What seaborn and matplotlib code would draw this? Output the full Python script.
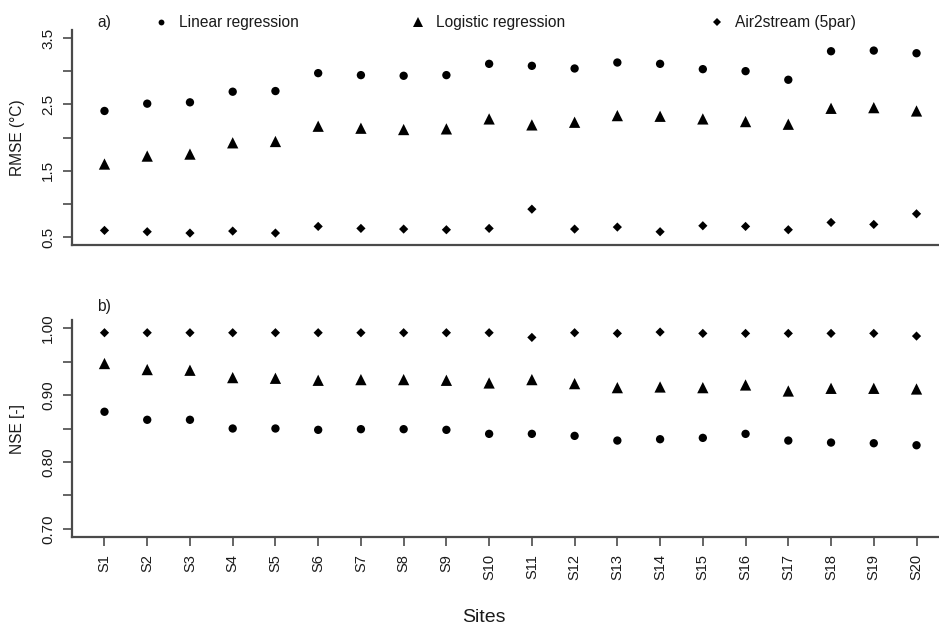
import numpy as np
import pandas as pd
import matplotlib
matplotlib.use("Agg")
import matplotlib.pyplot as plt
from matplotlib.lines import Line2D
import seaborn as sns

sites = [f"S{i}" for i in range(1, 21)]
models = ["Linear regression", "Logistic regression", "Air2stream (5par)"]

rmse_linear = [2.40, 2.51, 2.53, 2.69, 2.70, 2.97, 2.94, 2.93, 2.94, 3.11,
               3.08, 3.04, 3.13, 3.11, 3.03, 3.00, 2.87, 3.30, 3.31, 3.27]
rmse_logistic = [1.60, 1.72, 1.75, 1.92, 1.94, 2.17, 2.14, 2.12, 2.13, 2.28,
                 2.19, 2.23, 2.33, 2.32, 2.28, 2.24, 2.20, 2.44, 2.45, 2.40]
rmse_a2s = [0.60, 0.58, 0.56, 0.59, 0.56, 0.66, 0.63, 0.62, 0.61, 0.63,
            0.92, 0.62, 0.65, 0.58, 0.67, 0.66, 0.61, 0.72, 0.69, 0.85]

nse_linear = [0.875, 0.863, 0.863, 0.850, 0.850, 0.848, 0.849, 0.849, 0.848, 0.842,
              0.842, 0.839, 0.832, 0.834, 0.836, 0.842, 0.832, 0.829, 0.828, 0.825]
nse_logistic = [0.947, 0.938, 0.937, 0.926, 0.925, 0.922, 0.923, 0.923, 0.922, 0.918,
                0.923, 0.917, 0.911, 0.912, 0.911, 0.915, 0.906, 0.910, 0.910, 0.909]
nse_a2s = [0.993, 0.993, 0.993, 0.993, 0.993, 0.993, 0.993, 0.993, 0.993, 0.993,
           0.986, 0.993, 0.992, 0.994, 0.992, 0.992, 0.992, 0.992, 0.992, 0.988]

rmse = pd.DataFrame({"site": sites * 3,
                     "model": np.repeat(models, len(sites)),
                     "value": rmse_linear + rmse_logistic + rmse_a2s})
nse = pd.DataFrame({"site": sites * 3,
                    "model": np.repeat(models, len(sites)),
                    "value": nse_linear + nse_logistic + nse_a2s})

sns.set_theme(style="ticks")
plt.rcParams["font.family"] = ["Liberation Sans", "DejaVu Sans"]
INK = "#1a1a1a"
AXC = "#4a4a4a"

marker_of = {"Linear regression": "o", "Logistic regression": "^", "Air2stream (5par)": "D"}
size_of = {"Linear regression": 36, "Logistic regression": 66, "Air2stream (5par)": 22}

W, H = 939, 625
fig = plt.figure(figsize=(W / 100, H / 100), dpi=100)


def px_axes(left, top, right, bottom):
    return fig.add_axes([left / W, 1 - bottom / H, (right - left) / W, (bottom - top) / H])


ax1 = px_axes(72, 30, 949, 245)
ax2 = px_axes(72, 320, 949, 537)


def draw(ax, df):
    for m in models:
        sns.scatterplot(data=df[df["model"] == m], x="site", y="value", ax=ax,
                        marker=marker_of[m], s=size_of[m], color="black",
                        edgecolor="none", linewidth=0, legend=False)
    ax.set_xlim(-0.76, 19.76)
    ax.set_xlabel("")
    for side in ("top", "right"):
        ax.spines[side].set_visible(False)
    for side in ("left", "bottom"):
        ax.spines[side].set_color(AXC)
        ax.spines[side].set_linewidth(1.6)
    ax.tick_params(axis="both", colors=AXC, length=6.5, width=1.2,
                   labelcolor=INK, labelsize=11, pad=5.5)


draw(ax1, rmse)
ax1.set_ylim(0.38, 3.62)
ax1.set_yticks([0.5, 1.0, 1.5, 2.0, 2.5, 3.0, 3.5])
ax1.set_yticklabels(["0.5", "", "1.5", "", "2.5", "", "3.5"], rotation=90, va="center")
ax1.set_xticks([])
ax1.set_ylabel("RMSE (°C)", fontsize=11.2, color=INK)
ax1.yaxis.set_label_coords(-0.0536, 0.5)

draw(ax2, nse)
ax2.set_ylim(0.688, 1.012)
ax2.set_yticks([0.70, 0.75, 0.80, 0.85, 0.90, 0.95, 1.00])
ax2.set_yticklabels(["0.70", "", "0.80", "", "0.90", "", "1.00"], rotation=90, va="center")
ax2.set_xticks(range(len(sites)))
ax2.set_xticklabels(sites, rotation=90, va="top")
ax2.tick_params(axis="x", pad=6, labelsize=10.5)
ax2.set_ylabel("NSE [-]", fontsize=11.2, color=INK)
ax2.yaxis.set_label_coords(-0.0536, 0.5)

fig.text(97 / W, 1 - 22 / H, "a)", fontsize=11.2, color=INK, va="center", ha="left")
fig.text(97 / W, 1 - 306 / H, "b)", fontsize=11.2, color=INK, va="center", ha="left")
fig.text(484 / W, 1 - 617 / H, "Sites", fontsize=14, color=INK, va="center", ha="center")

legend_marker = {"Linear regression": ("o", 4.2), "Logistic regression": ("^", 6.8),
                 "Air2stream (5par)": ("D", 3.6)}
legend_x = {"Linear regression": 161, "Logistic regression": 418, "Air2stream (5par)": 717}
for m in models:
    mk, ms = legend_marker[m]
    h = Line2D([], [], linestyle="none", marker=mk, markersize=ms,
               markerfacecolor="black", markeredgecolor="black", markeredgewidth=0)
    fig.legend(handles=[h], labels=[m], loc="center left",
               bbox_to_anchor=((legend_x[m] - 5.5) / W, 1 - 23 / H),
               frameon=False, handlelength=0.75, handletextpad=0.75,
               borderpad=0, borderaxespad=0, fontsize=11.2, labelcolor=INK)

fig.savefig("out.png", dpi=100)
